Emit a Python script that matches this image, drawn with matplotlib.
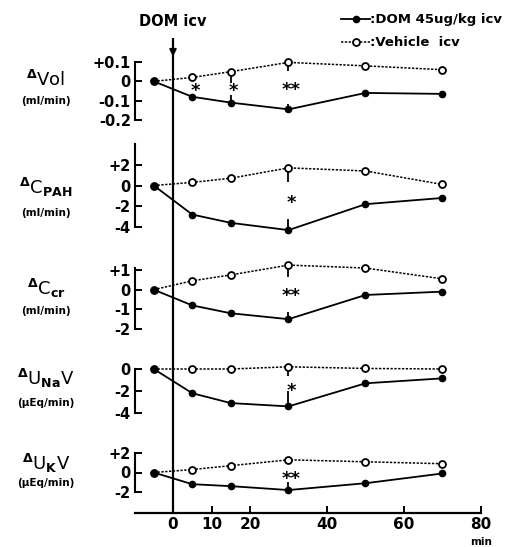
import matplotlib
matplotlib.use('Agg')
import matplotlib.pyplot as plt
import numpy as np

plt.rcParams['font.family'] = ['DejaVu Sans']
plt.rcParams['font.weight'] = 'bold'

# time points (min), baseline before injection at -5
t = [-5, 5, 15, 30, 50, 70]

# DOM 45 ug/kg icv
dom_vol = [0, -0.08, -0.11, -0.145, -0.06, -0.065]
dom_cpah = [0, -2.8, -3.6, -4.3, -1.8, -1.2]
dom_ccr = [0, -0.8, -1.2, -1.5, -0.27, -0.1]
dom_una = [0, -2.2, -3.1, -3.4, -1.3, -0.85]
dom_uk = [0, -1.2, -1.4, -1.8, -1.1, -0.1]

# vehicle icv
veh_vol = [0, 0.02, 0.05, 0.098, 0.08, 0.06]
veh_cpah = [0, 0.3, 0.7, 1.7, 1.4, 0.1]
veh_ccr = [0, 0.45, 0.75, 1.25, 1.1, 0.55]
veh_una = [0, 0.0, 0.0, 0.2, 0.05, 0.0]
veh_uk = [0, 0.3, 0.7, 1.3, 1.1, 0.9]

# one-sided SEM at marked points (time -> (vehicle, dom))
sem_vol = {15: (0.06, 0.04), 30: (0.045, 0.03)}
sem_cpah = {30: (1.4, 1.1)}
sem_ccr = {30: (0.6, 0.35)}
sem_una = {30: (0.8, 1.4)}
sem_uk = {30: (0.3, 0.8)}

# significance marks (time, label)
sig_vol = [(5, '*'), (15, '*'), (30, '**')]
sig_cpah = [(30, '*')]
sig_ccr = [(30, '**')]
sig_una = [(30, '*')]
sig_uk = [(30, '**')]

names = [r'$^{\Delta}$Vol', r'$^{\Delta}$C$_{\rm PAH}$', r'$^{\Delta}$C$_{\rm cr}$',
         r'$^{\Delta}$U$_{\rm Na}$V', r'$^{\Delta}$U$_{\rm K}$V']
units = ['(ml/min)', '(ml/min)', '(ml/min)', '(\u00b5Eq/min)', '(\u00b5Eq/min)']
yticks = [[0.1, 0, -0.1, -0.2], [2, 0, -2, -4], [1, 0, -1, -2], [0, -2, -4], [2, 0, -2]]
yticklabels = [['+0.1', '0', '-0.1', '-0.2'], ['+2', '0', '-2', '-4'], ['+1', '0', '-1', '-2'],
               ['0', '-2', '-4'], ['+2', '0', '-2']]
spine_rng = [(-0.2, 0.1), (-4, 4), (-2, 1.1), (-4, 0), (-2, 2)]

# pixel layout: (pixel y, value) pairs for each panel
W, H = 510, 547
px_ref = [((62, 0.1), (120, -0.2)), ((144, 4), (227, -4)), ((270, 1), (329, -2)),
          ((369, 0), (413, -4)), ((453, 2), (492, -2))]
name_px = [(80, 101), (187, 213), (288, 311), (378, 403), (463, 483)]  # name centre, unit centre
X0, X1 = 135, 490
xlim = ((X0 - 173) / 3.85, (X1 - 173) / 3.85)

fig = plt.figure(figsize=(W / 100, H / 100), dpi=100)

def fbox(x0, y0, x1, y1):
    return [x0 / W, 1 - y1 / H, (x1 - x0) / W, (y1 - y0) / H]

# base axis: time axis + injection line
base = fig.add_axes(fbox(X0, 38, X1, 513))
base.set_xlim(xlim)
base.set_ylim(0, 1)
for s in ['top', 'right', 'left']:
    base.spines[s].set_visible(False)
base.spines['bottom'].set_bounds(-10, 80)
base.spines['bottom'].set_linewidth(1.6)
base.set_yticks([])
base.set_xticks([0, 10, 20, 40, 60, 80])
base.tick_params(axis='x', direction='in', length=5, width=1.4, labelsize=11, pad=3)
base.axvline(0, ymin=0, ymax=1.0, color='black', lw=1.6)
base.text(80, -0.05, 'min', transform=base.get_xaxis_transform(), ha='center', va='top', fontsize=7.5)
base.annotate('', xy=(0, 0.955), xytext=(0, 0.99), xycoords=('data', 'axes fraction'),
              arrowprops=dict(arrowstyle='-|>', color='black', lw=1.4, mutation_scale=10))
base.text(0, 1.02, 'DOM icv', transform=base.get_xaxis_transform(), ha='center', va='bottom', fontsize=10.5)

dom_all = [dom_vol, dom_cpah, dom_ccr, dom_una, dom_uk]
veh_all = [veh_vol, veh_cpah, veh_ccr, veh_una, veh_uk]
sem_all = [sem_vol, sem_cpah, sem_ccr, sem_una, sem_uk]
sig_all = [sig_vol, sig_cpah, sig_ccr, sig_una, sig_uk]

handles = None
for i in range(5):
    (p0, v0), (p1, v1) = px_ref[i]
    ax = fig.add_axes(fbox(X0, p0, X1, p1))
    ax.patch.set_alpha(0)
    ax.set_xlim(xlim)
    ax.set_ylim(v1, v0)
    for s in ['top', 'right', 'bottom']:
        ax.spines[s].set_visible(False)
    ax.spines['left'].set_bounds(*spine_rng[i])
    ax.spines['left'].set_linewidth(1.5)
    ax.set_xticks([])
    ax.set_yticks(yticks[i])
    ax.set_yticklabels(yticklabels[i])
    ax.tick_params(axis='y', direction='in', length=5, width=1.4, labelsize=10.5, pad=3)

    hv, = ax.plot(t, veh_all[i], ls=(0, (1.5, 1)), color='black', lw=1.1, marker='o',
                  ms=5, mfc='white', mec='black', mew=1.3, clip_on=False, zorder=3)
    hd, = ax.plot(t, dom_all[i], ls='-', color='black', lw=1.3, marker='o',
                  ms=4.5, mfc='black', mec='black', clip_on=False, zorder=3)
    if handles is None:
        handles = [hd, hv]
    for tt, (ev, ed) in sem_all[i].items():
        k = t.index(tt)
        ax.errorbar([tt], [veh_all[i][k]], yerr=[[ev], [0]], fmt='none', ecolor='black',
                    elinewidth=1.3, capsize=0, clip_on=False, zorder=2)
        ax.errorbar([tt], [dom_all[i][k]], yerr=[[0], [ed]], fmt='none', ecolor='black',
                    elinewidth=1.3, capsize=0, clip_on=False, zorder=2)
    for tt, lab in sig_all[i]:
        k = t.index(tt)
        ymid = (veh_all[i][k] + dom_all[i][k]) / 2
        ax.annotate(lab, (tt + 0.7, ymid), xytext=(0, -3), textcoords='offset points',
                    ha='center', va='center', fontsize=13, fontweight='bold')

    ny, uy = name_px[i]
    fig.text(46 / W, 1 - ny / H, names[i], ha='center', va='center', fontsize=13,
             fontweight='normal')
    fig.text(46 / W, 1 - uy / H, units[i], ha='center', va='center', fontsize=7.5)

fig.legend(handles, [':DOM 45ug/kg icv', ':Vehicle  icv'], loc='upper right',
           bbox_to_anchor=(1.0, 0.99), frameon=False, fontsize=9.5, handlelength=2.2,
           handletextpad=0.0, labelspacing=0.75, borderaxespad=0.2)

fig.savefig('out.png', dpi=100)
